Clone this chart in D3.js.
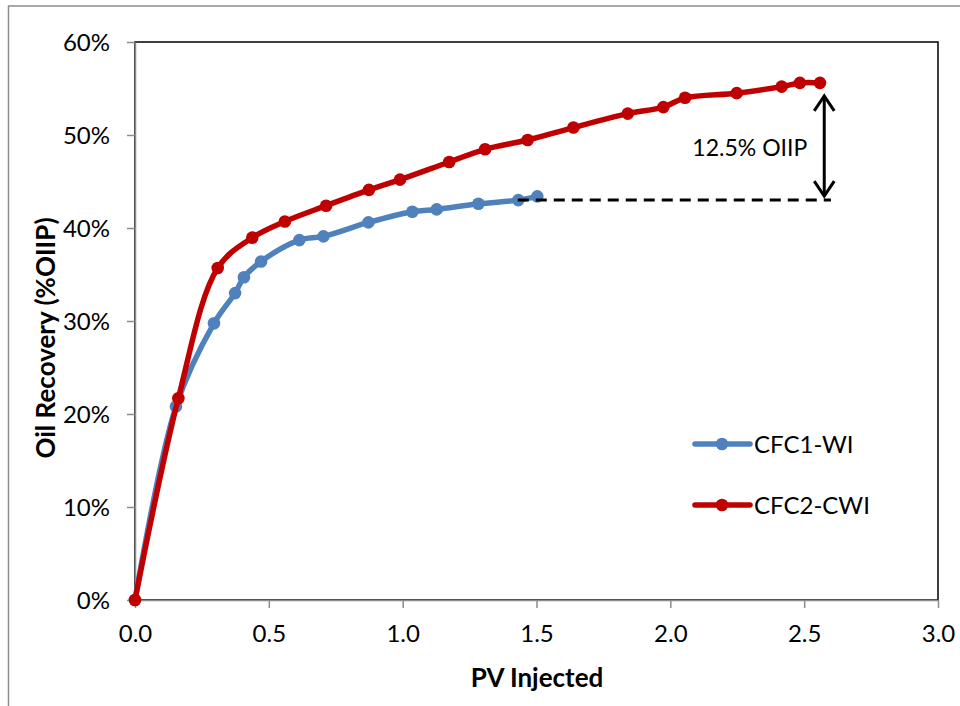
<!DOCTYPE html>
<html><head><meta charset="utf-8">
<script src="https://cdn.jsdelivr.net/npm/d3@7"></script>
<style>
body{margin:0;background:#fff;}
svg{display:block;font-family:Lato, "Open Sans", sans-serif;}
</style></head>
<body>
<svg id="chart" width="960" height="706"></svg>
<script>
const seriesNames = ["CFC1-WI", "CFC2-CWI"];
const wiPV = [0, 0.153, 0.295, 0.374, 0.407, 0.471, 0.614, 0.704, 0.872, 1.036, 1.127, 1.283, 1.432, 1.503];
const wiRec = [0, 20.8, 29.75, 33.0, 34.7, 36.4, 38.7, 39.1, 40.6, 41.75, 42.0, 42.6, 43.0, 43.4];
const cwiPV = [0, 0.162, 0.309, 0.438, 0.560, 0.714, 0.874, 0.990, 1.174, 1.308, 1.467, 1.638, 1.841, 1.974, 2.055, 2.248, 2.416, 2.484, 2.559];
const cwiRec = [0, 21.7, 35.7, 38.96, 40.7, 42.4, 44.1, 45.2, 47.1, 48.46, 49.46, 50.8, 52.3, 53.0, 54.0, 54.5, 55.2, 55.6, 55.6];
const xTicks = [0, 0.5, 1.0, 1.5, 2.0, 2.5, 3.0];
const yTicks = [0, 10, 20, 30, 40, 50, 60];
const annotationText = "12.5% OIIP";
const refLevel = 43.0;
const refStart = 1.43, refEnd = 2.60;
const arrowX = 2.575, arrowTop = 55.6, arrowBottom = 43.0;
const colors = ["#4F81BD", "#C00000"];

const svg = d3.select("#chart");
const m = {left:135, top:42, right:938, bottom:600};
const x = d3.scaleLinear().domain([0,3]).range([m.left, m.right]);
const y = d3.scaleLinear().domain([0,60]).range([m.bottom, m.top]);

// outer frame
svg.append("rect").attr("x",8.5).attr("y",6).attr("width",1000).attr("height",800)
  .attr("fill","#fff").attr("stroke","#8c8c8c").attr("stroke-width",1.5);

// plot border
svg.append("rect").attr("x",m.left).attr("y",m.top).attr("width",m.right-m.left).attr("height",m.bottom-m.top)
  .attr("fill","none").attr("stroke","#000").attr("stroke-width",1.5);

// axes
const xAxis = svg.append("g").attr("transform",`translate(0,${m.bottom})`)
  .call(d3.axisBottom(x).tickValues(xTicks).tickFormat(d3.format(".1f")).tickSize(8).tickSizeOuter(0));
const yAxis = svg.append("g").attr("transform",`translate(${m.left},0)`)
  .call(d3.axisLeft(y).tickValues(yTicks).tickFormat(d=>d+"%").tickSize(8).tickSizeOuter(0));
[xAxis,yAxis].forEach(g=>{
  g.select(".domain").attr("stroke","#8c8c8c").attr("stroke-width",1.5);
  g.selectAll(".tick line").attr("stroke","#8c8c8c").attr("stroke-width",1.5);
  g.selectAll("text").attr("fill","#000").style("font-size","24px").style("font-family","Lato");
});
xAxis.selectAll("text").attr("dy","0").attr("y",42);
yAxis.selectAll("text").attr("x",-25).attr("dy","0.36em");

// axis titles
svg.append("text").attr("x",537).attr("y",687).attr("text-anchor","middle")
  .style("font-size","26px").style("font-weight","bold").text("PV Injected");
svg.append("text").attr("transform","translate(55,338) rotate(-90)").attr("text-anchor","middle")
  .style("font-size","26px").style("font-weight","bold").text("Oil Recovery (%OIIP)");

// series
const line = d3.line().x(d=>x(d[0])).y(d=>y(d[1])).curve(d3.curveCatmullRom.alpha(0.5));
const datasets = [d3.zip(wiPV, wiRec), d3.zip(cwiPV, cwiRec)];
datasets.forEach((data,i)=>{
  svg.append("path").datum(data).attr("d",line).attr("fill","none")
    .attr("stroke",colors[i]).attr("stroke-width",5.5).attr("stroke-linejoin","round").attr("stroke-linecap","round");
  svg.append("g").selectAll("circle").data(data).join("circle")
    .attr("cx",d=>x(d[0])).attr("cy",d=>y(d[1])).attr("r",6.3).attr("fill",colors[i]);
});

// reference dashed line
svg.append("line").attr("x1",x(refStart)).attr("x2",x(refEnd)).attr("y1",y(refLevel)).attr("y2",y(refLevel))
  .attr("stroke","#000").attr("stroke-width",3).attr("stroke-dasharray","11,7");

// double arrow
const ax = x(arrowX), at = y(arrowTop)+13, ab = y(arrowBottom)-4;
svg.append("line").attr("x1",ax).attr("x2",ax).attr("y1",at+1).attr("y2",ab-1).attr("stroke","#000").attr("stroke-width",3);
svg.append("path").attr("d",`M${ax-10},${at+15} L${ax},${at} L${ax+10},${at+15}`).attr("fill","none").attr("stroke","#000").attr("stroke-width",3);
svg.append("path").attr("d",`M${ax-10},${ab-15} L${ax},${ab} L${ax+10},${ab-15}`).attr("fill","none").attr("stroke","#000").attr("stroke-width",3);
svg.append("text").attr("x",x(arrowX)-17).attr("y",156).attr("text-anchor","end")
  .style("font-size","23px").text(annotationText);

// legend
const legY = [444, 505];
seriesNames.forEach((n,i)=>{
  svg.append("line").attr("x1",695).attr("x2",750).attr("y1",legY[i]).attr("y2",legY[i])
    .attr("stroke",colors[i]).attr("stroke-width",5.5).attr("stroke-linecap","round");
  svg.append("circle").attr("cx",722).attr("cy",legY[i]).attr("r",6.3).attr("fill",colors[i]);
  svg.append("text").attr("x",754).attr("y",legY[i]).attr("dy","0.36em").style("font-size","24px").text(n);
});
</script>
</body></html>
